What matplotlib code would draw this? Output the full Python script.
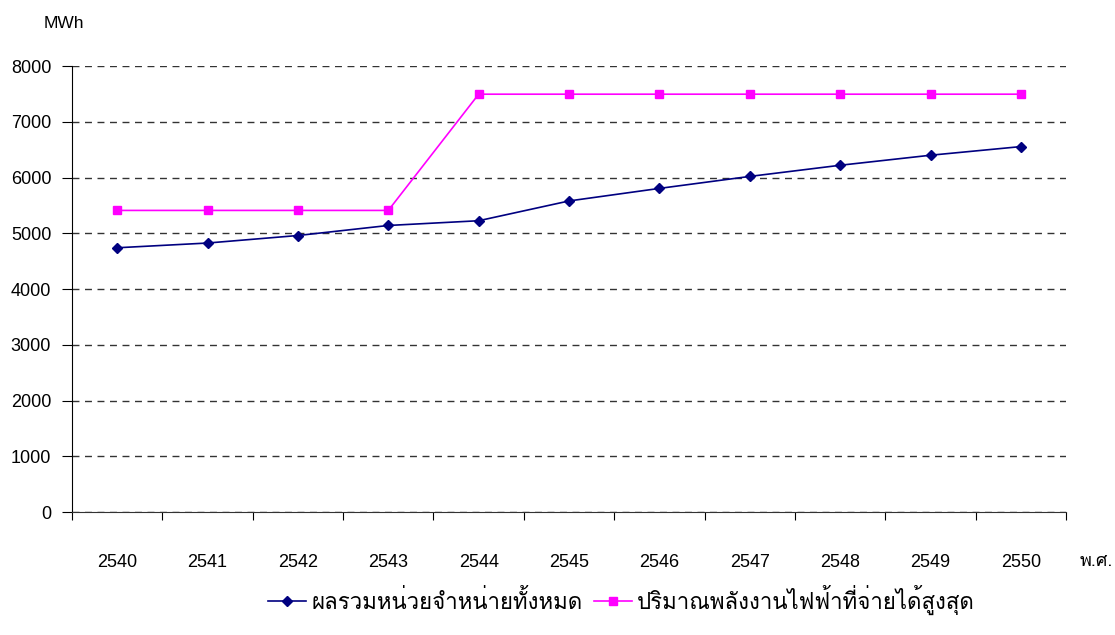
import matplotlib
matplotlib.use('Agg')
import matplotlib.pyplot as plt
from matplotlib import font_manager

# data
years = ['2540', '2541', '2542', '2543', '2544', '2545', '2546', '2547', '2548', '2549', '2550']
total_units = [4740, 4825, 4960, 5140, 5225, 5580, 5805, 6020, 6220, 6400, 6555]
max_energy = [5410, 5410, 5410, 5410, 7495, 7495, 7495, 7495, 7495, 7495, 7495]
label_total = 'ผลรวมหน่วยจำหน่ายทั้งหมด'
label_max = 'ปริมาณพลังงานไฟฟ้าที่จ่ายได้สูงสุด'

# pick a Thai font that renders marks without shaping
installed = {f.name for f in font_manager.fontManager.ttflist}
thai = None
for name in ['Loma', 'Garuda', 'Umpush', 'FreeSerif']:
    if name in installed:
        thai = name
        break
fams = ['Liberation Sans', 'DejaVu Sans']
if thai:
    fams = ['Liberation Sans', thai, 'DejaVu Sans']
plt.rcParams['font.family'] = fams

fig = plt.figure(figsize=(11.15, 6.35), dpi=100)
ax = fig.add_axes([0.0646, 0.1937, 0.8915, 0.7023])

x = list(range(len(years)))
ax.plot(x, total_units, color='#000080', marker='D', markersize=5.5, linewidth=1.2, label=label_total)
ax.plot(x, max_energy, color='#FF00FF', marker='s', markersize=5.5, linewidth=1.2, label=label_max)

ax.set_xlim(-0.5, len(years) - 0.5)
ax.set_ylim(0, 8000)
ax.set_yticks(range(0, 8001, 1000))
ax.yaxis.grid(True, linestyle=(0, (5, 4)), color='#333333', linewidth=1)
ax.set_axisbelow(True)

# ticks on category boundaries, labels in between
ax.set_xticks([i - 0.5 for i in range(len(years) + 1)])
ax.set_xticklabels([])
ax.set_xticks(x, minor=True)
ax.set_xticklabels(years, minor=True, fontsize=13)
ax.tick_params(axis='x', which='major', direction='out', length=6, color='black')
ax.tick_params(axis='x', which='minor', length=0, pad=30)
ax.tick_params(axis='y', direction='out', length=7, labelsize=13, pad=8)

for s in ['top', 'right']:
    ax.spines[s].set_visible(False)
ax.spines['left'].set_color('black')
ax.spines['bottom'].set_color('#333333')

fig.text(0.0395, 0.963, 'MWh', fontsize=12.5, va='center')
thai_fam = [thai, 'DejaVu Sans'] if thai else ['DejaVu Sans']
fig.text(0.9685, 0.1165, 'พ.ศ.', fontsize=13, va='center', family=thai_fam)

ax.legend(loc='center', bbox_to_anchor=(0.553, -0.197), ncol=2, frameon=False,
          prop={'family': thai_fam, 'size': 16},
          handlelength=1.7, handletextpad=0.25, columnspacing=0.5)

plt.savefig('out.png', dpi=100)
